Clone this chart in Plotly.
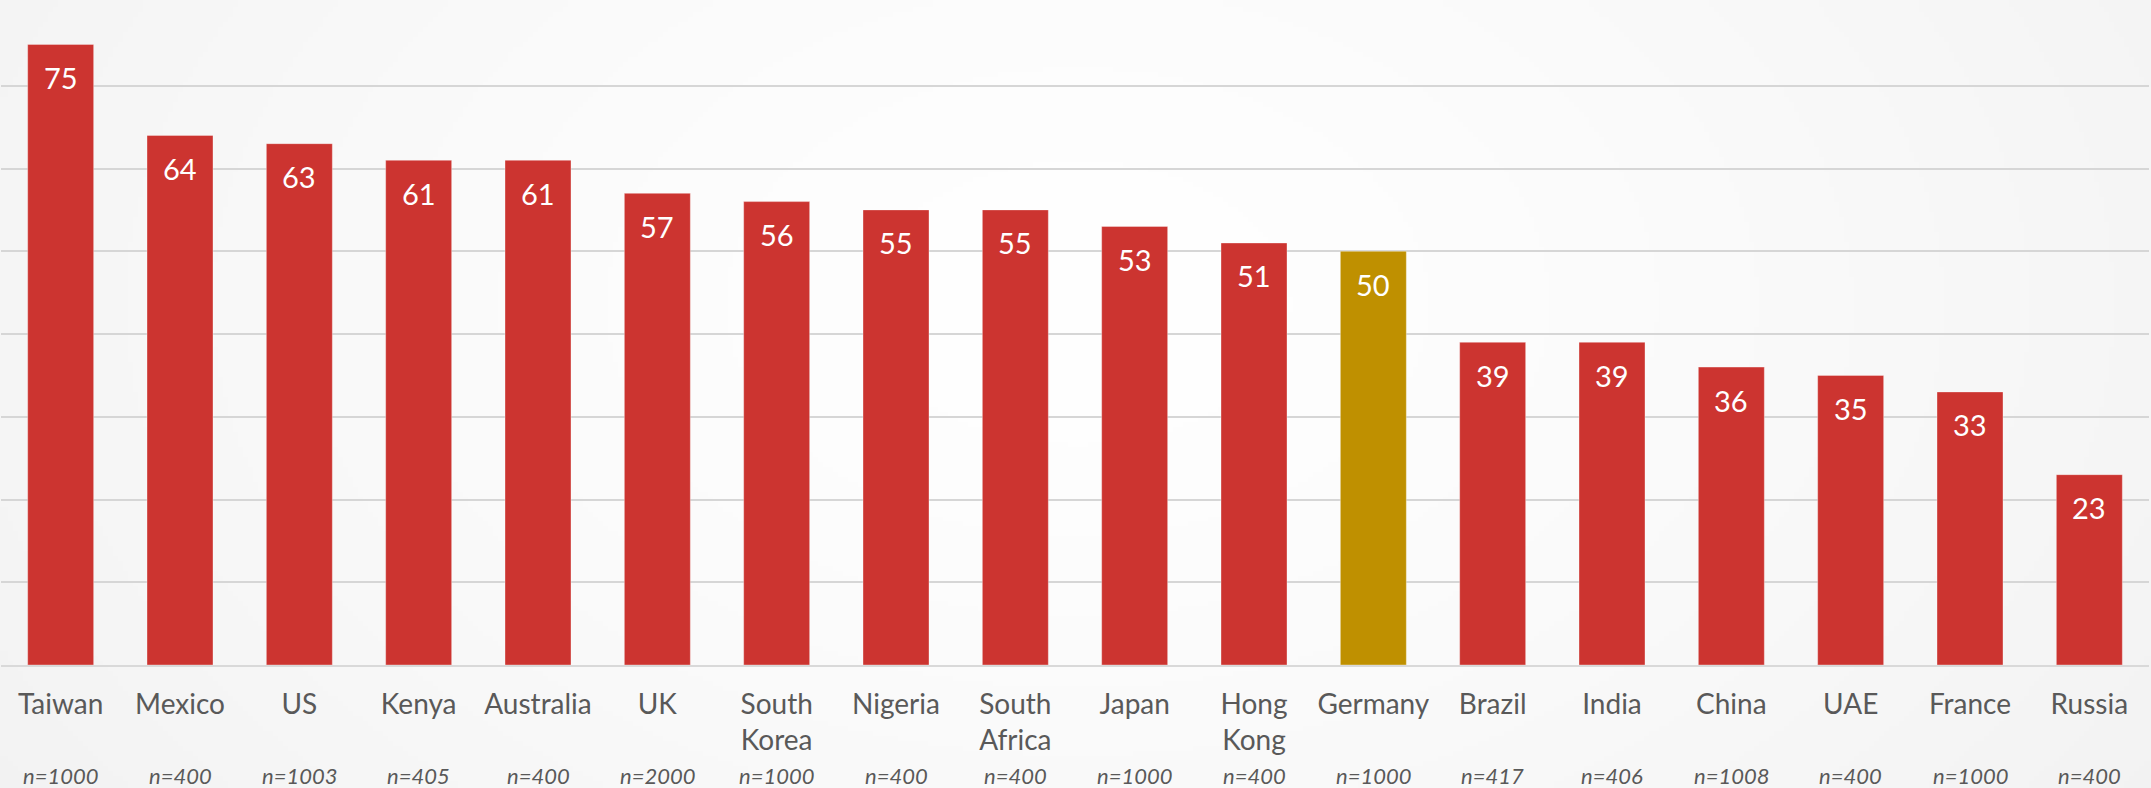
import base64, struct, zlib
import numpy as np
import plotly.graph_objects as go

# ---- data ----
countries = ["Taiwan", "Mexico", "US", "Kenya", "Australia", "UK", "South<br>Korea",
             "Nigeria", "South<br>Africa", "Japan", "Hong<br>Kong", "Germany", "Brazil",
             "India", "China", "UAE", "France", "Russia"]
values = [75, 64, 63, 61, 61, 57, 56, 55, 55, 53, 51, 50, 39, 39, 36, 35, 33, 23]
sample_sizes = ["n=1000", "n=400", "n=1003", "n=405", "n=400", "n=2000", "n=1000",
                "n=400", "n=400", "n=1000", "n=400", "n=1000", "n=417", "n=406",
                "n=1008", "n=400", "n=1000", "n=400"]
highlight = "Germany"

RED = "#CC3430"
GOLD = "#BF9000"
colors = [GOLD if c == highlight else RED for c in countries]

W, H = 2151, 788
ML, MR, MT, MB = 1, 2, 3, 123
PW, PH = W - ML - MR, H - MT - MB


# ---- soft radial background (pure-python PNG) ----
def make_png(arr):
    h, w = arr.shape
    raw = b"".join(b"\x00" + bytes(arr[r].astype(np.uint8)) for r in range(h))

    def chunk(tag, data):
        c = struct.pack(">I", len(data)) + tag + data
        return c + struct.pack(">I", zlib.crc32(tag + data) & 0xffffffff)

    png = b"\x89PNG\r\n\x1a\n"
    png += chunk(b"IHDR", struct.pack(">IIBBBBB", w, h, 8, 0, 0, 0, 0))
    png += chunk(b"IDAT", zlib.compress(raw, 9))
    png += chunk(b"IEND", b"")
    return "data:image/png;base64," + base64.b64encode(png).decode()


gw, gh = 430, 158
yy, xx = np.mgrid[0:gh, 0:gw]
xs = xx * (W / gw)
ys = yy * (H / gh)
d = np.sqrt(((xs - 1075) / 1350) ** 2 + ((ys - 300) / 900) ** 2)
bg = 255 - 13 * np.clip(d, 0, 1.2) ** 1.4
bg = np.clip(bg, 240, 255)
bg_uri = make_png(bg)

fig = go.Figure()
fig.add_trace(go.Bar(
    x=countries, y=values,
    marker=dict(color=colors, line=dict(color="rgba(255,255,255,0.35)", width=1)),
    hoverinfo="x+y",
))

annotations = []
for c, v in zip(countries, values):
    annotations.append(dict(
        x=c, y=v, xref="x", yref="y", text=str(v), showarrow=False,
        yanchor="middle", yshift=-33,
        font=dict(family="Lato", size=29, color="white"),
    ))
for c, n in zip(countries, sample_sizes):
    annotations.append(dict(
        x=c, y=(PH - (775 - MT)) / PH, xref="x", yref="paper", text="<i>" + n + "</i>",
        showarrow=False, yanchor="middle",
        font=dict(family="Lato", size=22, color="#595959"),
    ))

fig.update_layout(
    width=W, height=H,
    margin=dict(l=ML, r=MR, t=MT, b=MB, pad=0),
    paper_bgcolor="#f4f4f4",
    plot_bgcolor="rgba(0,0,0,0)",
    bargap=0.447,
    showlegend=False,
    annotations=annotations,
    images=[dict(
        source=bg_uri, xref="paper", yref="paper",
        x=-ML / PW, y=1 + MT / PH, sizex=W / PW, sizey=H / PH,
        xanchor="left", yanchor="top", sizing="stretch", layer="below",
    )],
    xaxis=dict(
        showgrid=False, showline=True, linecolor="#d9d9d9", linewidth=2,
        ticks="", tickfont=dict(family="Lato", size=28, color="#595959"),
        ticklabelstandoff=13,
    ),
    yaxis=dict(
        range=[0, 80], dtick=10, showgrid=True, gridcolor="#d6d6d6", gridwidth=2,
        showticklabels=False, zeroline=False, showline=False,
    ),
)

fig.write_html(
    "out.html",
    config={"displayModeBar": False},
    post_script="document.body.style.margin='0';document.body.style.overflow='hidden';",
)
